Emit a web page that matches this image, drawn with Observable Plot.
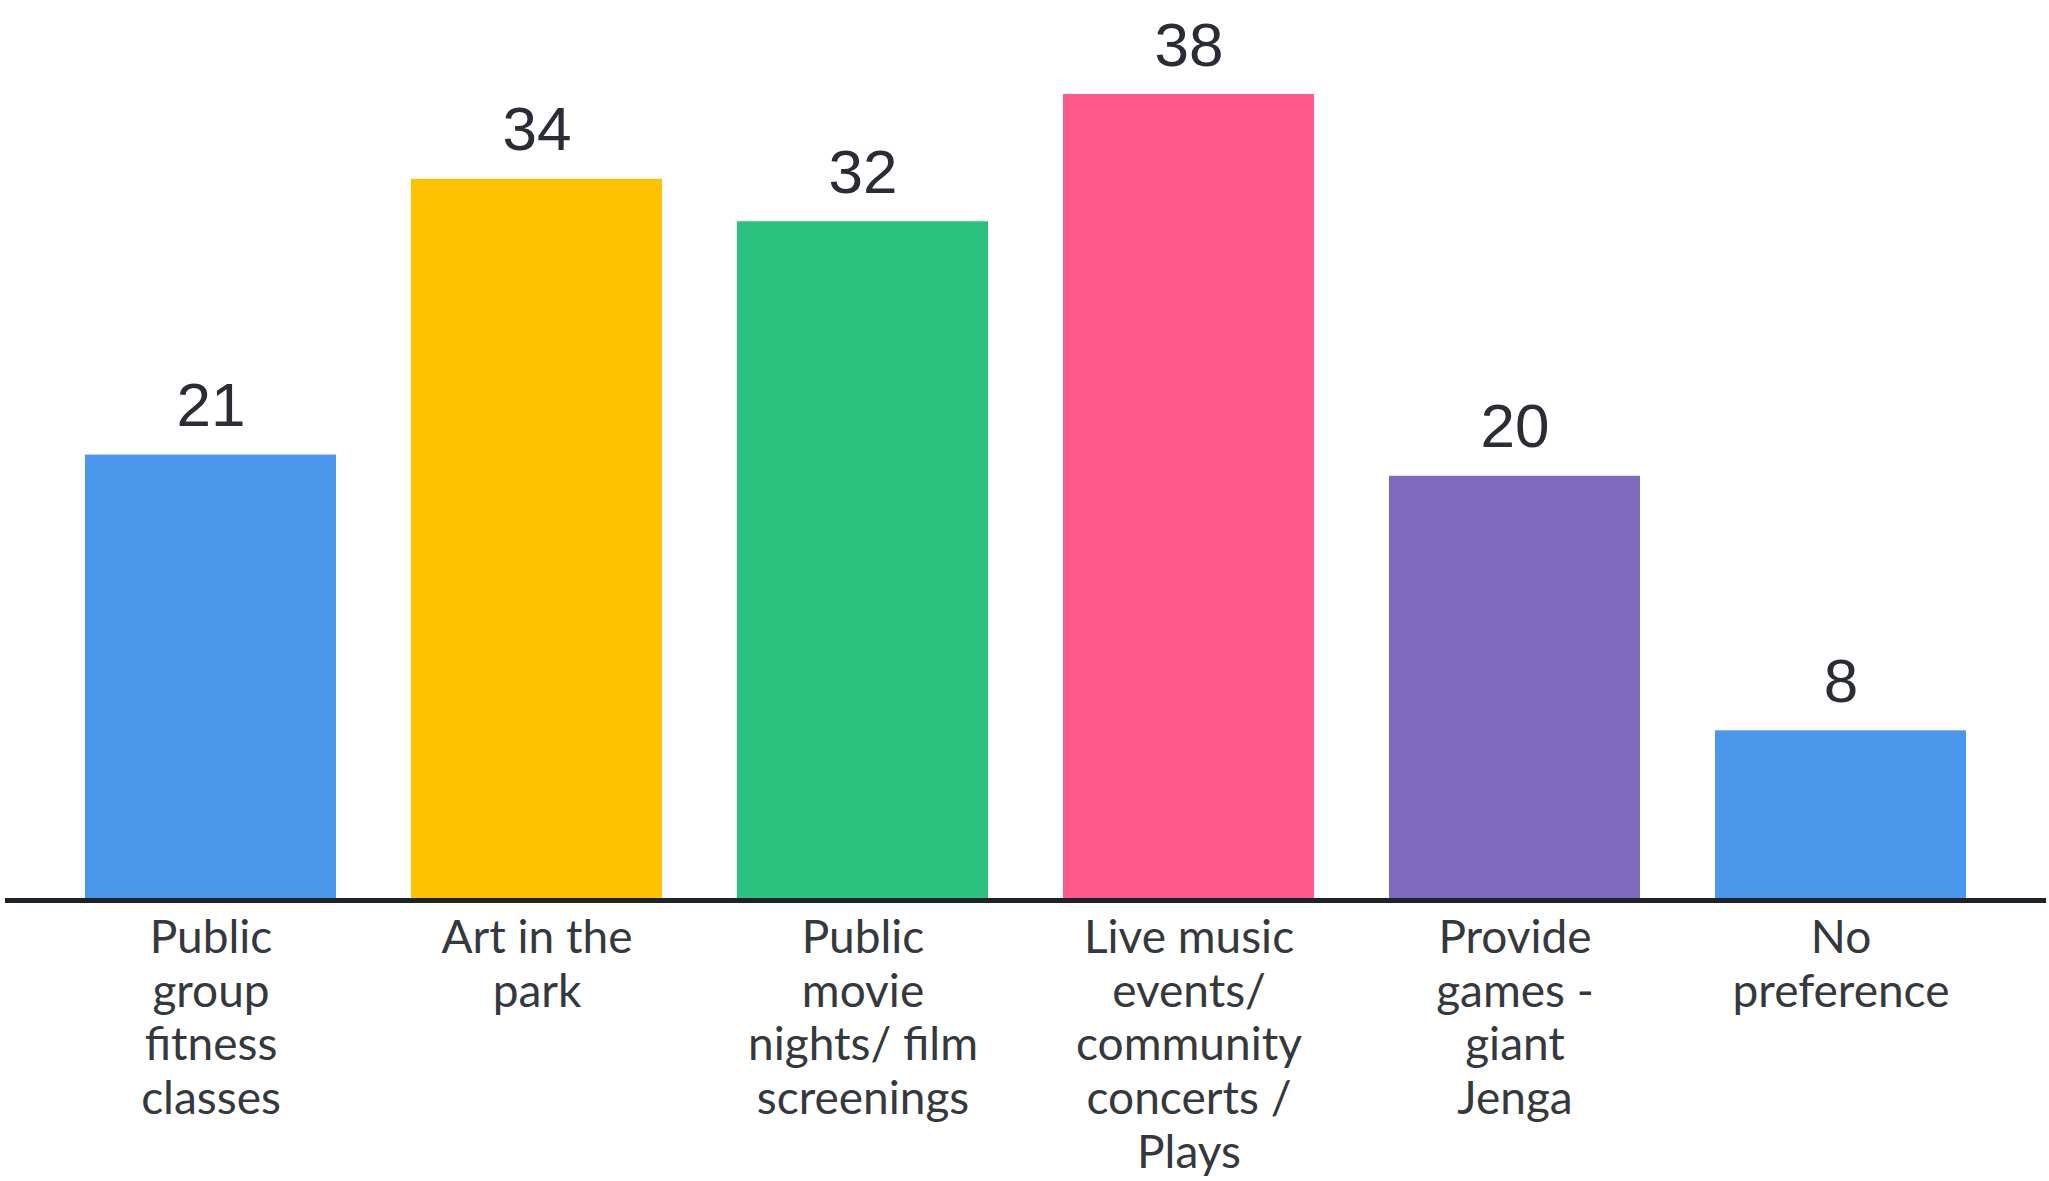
<!DOCTYPE html>
<html>
<head>
<meta charset="utf-8">
<script src="https://cdn.jsdelivr.net/npm/d3@7"></script>
<script src="https://cdn.jsdelivr.net/npm/@observablehq/plot@0.6"></script>
<style>
  html, body { margin: 0; padding: 0; background: #ffffff; }
  #chart svg { display: block; }
</style>
</head>
<body>
<div id="chart"></div>
<script>
const categories = [
  "Public group fitness classes",
  "Art in the park",
  "Public movie nights/ film screenings",
  "Live music events/ community concerts / Plays",
  "Provide games - giant Jenga",
  "No preference"
];
const tickLabels = [
  "Public\ngroup\nfitness\nclasses",
  "Art in the\npark",
  "Public\nmovie\nnights/ film\nscreenings",
  "Live music\nevents/\ncommunity\nconcerts /\nPlays",
  "Provide\ngames -\ngiant\nJenga",
  "No\npreference"
];
const values = [21, 34, 32, 38, 20, 8];
const barColors = ["#4b97eb", "#fdc300", "#2bc27f", "#ff5a8b", "#7d69bd", "#4b97eb"];

const data = categories.map((c, i) => ({cat: c, label: tickLabels[i], value: values[i], color: barColors[i]}));

const chart = Plot.plot({
  width: 2049,
  height: 1181,
  marginTop: 94,
  marginBottom: 281,
  marginLeft: 5,
  marginRight: 3,
  style: {background: "#ffffff"},
  x: {domain: categories, paddingInner: 0.23, paddingOuter: 0.245, axis: null},
  y: {domain: [0, 38], axis: null},
  marks: [
    Plot.barY(data, {x: "cat", y: "value", fill: "color"}),
    Plot.ruleY([0], {stroke: "#1e2329", strokeWidth: 5}),
    Plot.text(data, {
      x: "cat", y: "value", text: d => String(d.value),
      lineAnchor: "bottom", dy: -29,
      fontSize: 62, fill: "#2a2d33",
      fontFamily: "Liberation Sans, Arial, sans-serif"
    }),
    Plot.text(data, {
      x: "cat", y: 0, text: "label",
      lineAnchor: "top", dy: 14, lineHeight: 1.17,
      fontSize: 46, fill: "#35383d",
      fontFamily: "Lato, sans-serif"
    })
  ]
});
document.getElementById("chart").appendChild(chart);
</script>
</body>
</html>
